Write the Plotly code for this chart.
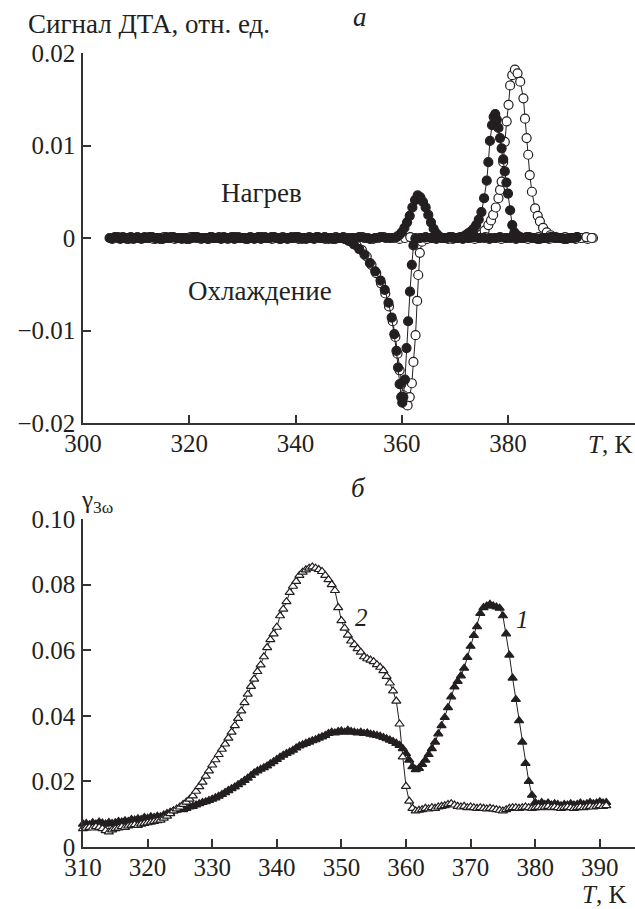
import plotly.graph_objects as go

# ---------------- Panel a: DTA signal (rel. units) ----------------
# filled circles, heating run
fh_T = [305, 306, 307, 308, 309, 310, 311, 312, 313, 314, 315, 316, 317, 318, 319, 320, 321, 322,
        323, 324, 325, 326, 327, 328, 329, 330, 331, 332, 333, 334, 335, 336, 337, 338, 339, 340,
        341, 342, 343, 344, 345, 346, 347, 348, 349, 350, 351, 352, 353, 354, 355, 356, 357, 358,
        359, 359.5, 360, 360.5, 361, 361.5, 362, 362.5, 363, 363.5, 364, 364.5, 365, 365.5, 366, 366.5, 367,
        368, 369, 370, 371,
        372, 372.5, 373, 373.5, 374, 374.5, 375, 375.5, 376, 376.3, 376.6, 377, 377.3, 377.6, 377.9,
        378.2, 378.5, 378.8, 379.1, 379.4, 379.7, 380, 380.4, 380.8, 381.2, 381.7, 382.3,
        383, 384, 385, 386, 387, 388, 389, 390, 391, 392, 393]
fh_V = [0.0000, 0.0001, -0.0001, 0.0000, 0.0001, 0.0000, -0.0001, 0.0000, 0.0001, 0.0000,
        -0.0001, 0.0000, 0.0001, 0.0000, 0.0000, -0.0001, 0.0001, 0.0000, 0.0000, 0.0001,
        0.0000, -0.0001, 0.0000, 0.0001, 0.0000, 0.0000, -0.0001, 0.0000, 0.0001, 0.0000,
        0.0000, 0.0001, -0.0001, 0.0000, 0.0000, 0.0001, 0.0000, -0.0001, 0.0000, 0.0001,
        0.0000, 0.0000, -0.0001, 0.0000, 0.0001, 0.0000, 0.0000, 0.0001, 0.0000, -0.0001,
        0.0000, 0.0001, 0.0000, 0.0000,
        0.0001, 0.0003, 0.0006, 0.0011, 0.0017, 0.0024, 0.0033, 0.0041, 0.0046, 0.0044, 0.0039,
        0.0033, 0.0025, 0.0017, 0.0010, 0.0005, 0.0002,
        0.0000, 0.0001, 0.0000, 0.0001,
        0.0003, 0.0005, 0.0007, 0.0010, 0.0014, 0.0020, 0.0028, 0.0043, 0.0062, 0.0082, 0.0105,
        0.0122, 0.0131, 0.0134, 0.0128, 0.0119, 0.0108, 0.0097, 0.0085, 0.0072, 0.0060, 0.0048,
        0.0030, 0.0014, 0.0006, 0.0003, 0.0001,
        0.0000, 0.0001, 0.0000, -0.0001, 0.0000, 0.0001, 0.0000, 0.0000, -0.0001, 0.0000, 0.0001]

# filled circles, cooling run
fc_T = [305.5, 306.5, 307.5, 308.5, 309.5, 310.5, 311.5, 312.5, 313.5, 314.5, 315.5, 316.5,
        317.5, 318.5, 319.5, 320.5, 321.5, 322.5, 323.5, 324.5, 325.5, 326.5, 327.5, 328.5,
        329.5, 330.5, 331.5, 332.5, 333.5, 334.5, 335.5, 336.5, 337.5, 338.5, 339.5, 340.5,
        341.5, 342.5, 343.5, 344.5, 345.5, 346.5, 347.5, 348.5,
        349.3, 350, 351, 352, 353, 354, 355, 356, 356.8, 357.5, 358.1, 358.6, 359.0, 359.3,
        359.6, 359.9, 360.1, 360.3, 360.6, 360.9, 361.2, 361.55, 361.9, 362.2, 362.6,
        363.5, 364.5, 365.5, 366.5, 367.5, 368.5, 369.5, 370.5, 371.5, 372.5, 373.5, 374.5,
        375.5, 376.5, 377.5, 378.5, 379.5, 380.5, 381.5, 382.5, 383.5, 384.5, 385.5, 386.5,
        387.5, 388.5, 389.5, 390.5, 391.5, 392.5]
fc_V = [-0.0001, 0.0000, 0.0001, 0.0000, -0.0001, 0.0000, 0.0000, 0.0001, 0.0000, -0.0001,
        0.0000, 0.0001, 0.0000, 0.0000, -0.0001, 0.0000, 0.0001, 0.0000, -0.0001, 0.0000,
        0.0000, 0.0001, 0.0000, -0.0001, 0.0000, 0.0000, 0.0001, 0.0000, -0.0001, 0.0000,
        0.0001, 0.0000, 0.0000, -0.0001, 0.0000, 0.0001, 0.0000, 0.0000, -0.0001, 0.0000,
        0.0001, 0.0000, -0.0001, 0.0000,
        -0.0001, -0.0003, -0.0007, -0.0012, -0.0018, -0.0027, -0.0036, -0.0046, -0.0056, -0.0070,
        -0.0086, -0.0104, -0.0122, -0.0140, -0.0158, -0.0172, -0.0178, -0.0172, -0.0153, -0.0119,
        -0.0090, -0.0058, -0.0029, -0.0008, -0.0001,
        0.0000, 0.0001, 0.0000, -0.0001, 0.0000, 0.0000, 0.0001, 0.0000, -0.0001, 0.0000,
        0.0001, 0.0000, 0.0000, -0.0001, 0.0000, 0.0001, 0.0000, 0.0000, -0.0001, 0.0000,
        0.0001, 0.0000, -0.0001, 0.0000, 0.0000, 0.0001, 0.0000, -0.0001, 0.0000, 0.0000]

# open circles, heating run
oh_T = [306.6, 307.6, 308.6, 309.6, 310.6, 311.6, 312.6, 313.6, 314.6, 315.6, 316.6, 317.6,
        318.6, 319.6, 320.6, 321.6, 322.6, 323.6, 324.6, 325.6, 326.6, 327.6, 328.6, 329.6,
        330.6, 331.6, 332.6, 333.6, 334.6, 335.6, 336.6, 337.6, 338.6, 339.6, 340.6, 341.6,
        342.6, 343.6, 344.6, 345.6, 346.6, 347.6, 348.6, 349.6, 350.6, 351.6, 352.6, 353.6,
        354.6, 355.6, 356.6, 357.6, 358.6, 359.6, 360.6, 361.6, 362.6, 363.6, 364.6, 365.6,
        366.6, 367.6, 368.6, 369.6, 370.6, 371.6, 372.6, 373.6, 374.6,
        375.0, 375.6, 376.3, 376.8, 377.2, 377.7, 378.2, 378.5, 378.8, 379.1, 379.4, 379.75,
        380.1, 380.4, 380.8, 381.3, 381.8, 382.3, 382.9, 383.2, 383.5, 383.8, 384.1, 384.5,
        385.1, 385.6, 386.0, 386.6, 387.3, 388.0,
        389.0, 390.0, 391.0, 392.0, 393.0, 394.0, 395.0, 396.0]
oh_V = [0.0001, 0.0000, -0.0001, 0.0000, 0.0000, 0.0001, 0.0000, -0.0001, 0.0000, 0.0001,
        0.0000, 0.0000, -0.0001, 0.0000, 0.0001, 0.0000, 0.0000, -0.0001, 0.0000, 0.0001,
        0.0000, 0.0000, 0.0001, 0.0000, -0.0001, 0.0000, 0.0000, 0.0001, 0.0000, -0.0001,
        0.0000, 0.0001, 0.0000, 0.0000, -0.0001, 0.0000, 0.0001, 0.0000, 0.0000, -0.0001,
        0.0000, 0.0001, 0.0000, -0.0001, 0.0000, 0.0000, 0.0001, 0.0000, -0.0001, 0.0000,
        0.0001, 0.0000, 0.0000, -0.0001, 0.0000, 0.0001, 0.0000, 0.0000, -0.0001, 0.0000,
        0.0001, 0.0000, 0.0000, -0.0001, 0.0000, 0.0001, 0.0000, 0.0001, 0.0002,
        0.0004, 0.0008, 0.0014, 0.0019, 0.0025, 0.0033, 0.0043, 0.0052, 0.0061, 0.0082, 0.0104,
        0.0126, 0.0144, 0.0165, 0.0176, 0.0182, 0.0178, 0.0169, 0.0151, 0.0129, 0.0108, 0.0090,
        0.0068, 0.0050, 0.0032, 0.0024, 0.0018, 0.0011, 0.0006, 0.0003,
        0.0001, 0.0000, -0.0001, 0.0000, 0.0001, 0.0000, -0.0001, 0.0000]

# open circles, cooling run
oc_T = [307.25, 308.25, 309.25, 310.25, 311.25, 312.25, 313.25, 314.25, 315.25, 316.25,
        317.25, 318.25, 319.25, 320.25, 321.25, 322.25, 323.25, 324.25, 325.25, 326.25,
        327.25, 328.25, 329.25, 330.25, 331.25, 332.25, 333.25, 334.25, 335.25, 336.25,
        337.25, 338.25, 339.25, 340.25, 341.25, 342.25, 343.25, 344.25, 345.25, 346.25,
        347.25, 348.25, 349.25,
        350.0, 350.8, 351.5, 352.5, 353.4, 354.3, 355.2, 356.1, 356.9, 357.6, 358.3, 358.8,
        359.2, 359.6, 359.9, 360.3, 360.7, 361.1, 361.5, 361.9, 362.2, 362.6, 362.9, 363.1,
        363.4, 363.8,
        364.75, 365.75, 366.75, 367.75, 368.75, 369.75, 370.75, 371.75, 372.75, 373.75,
        374.75, 375.75, 376.75, 377.75, 378.75, 379.75, 380.75, 381.75, 382.75, 383.75,
        384.75, 385.75, 386.75, 387.75, 388.75, 389.75, 390.75, 391.75, 392.75, 393.75,
        394.75, 395.75]
oc_V = [0.0000, -0.0001, 0.0000, 0.0001, 0.0000, 0.0000, -0.0001, 0.0000, 0.0001, 0.0000,
        -0.0001, 0.0000, 0.0000, 0.0001, 0.0000, -0.0001, 0.0000, 0.0001, 0.0000, 0.0000,
        -0.0001, 0.0000, 0.0001, 0.0000, 0.0000, -0.0001, 0.0000, 0.0001, 0.0000, 0.0000,
        -0.0001, 0.0000, 0.0001, 0.0000, -0.0001, 0.0000, 0.0000, 0.0001, 0.0000, -0.0001,
        0.0000, 0.0000, -0.0001,
        -0.0002, -0.0004, -0.0008, -0.0013, -0.0020, -0.0029, -0.0038, -0.0049, -0.0060, -0.0074,
        -0.0090, -0.0107, -0.0125, -0.0143, -0.0158, -0.0170, -0.0179, -0.0181, -0.0172, -0.0157,
        -0.0134, -0.0105, -0.0068, -0.0040, -0.0016, -0.0004,
        -0.0001, 0.0000, 0.0001, 0.0000, -0.0001, 0.0000, 0.0000, 0.0001, 0.0000, -0.0001,
        0.0000, 0.0001, 0.0000, 0.0000, -0.0001, 0.0000, 0.0001, 0.0000, 0.0000, -0.0001,
        0.0000, 0.0001, 0.0000, -0.0001, 0.0000, 0.0000, 0.0001, 0.0000, -0.0001, 0.0000,
        0.0001, 0.0000]

# ---------------- Panel б: gamma_3omega ----------------
temp_b = [310.0, 310.5, 311.0, 311.5, 312.0, 312.5, 313.0, 313.5, 314.0, 314.5,
          315.0, 315.5, 316.0, 316.5, 317.0, 317.5, 318.0, 318.5, 319.0, 319.5,
          320.0, 320.5, 321.0, 321.5, 322.0, 322.5, 323.0, 323.5, 324.0, 324.5,
          325.0, 325.5, 326.0, 326.5, 327.0, 327.5, 328.0, 328.5, 329.0, 329.5,
          330.0, 330.5, 331.0, 331.5, 332.0, 332.5, 333.0, 333.5, 334.0, 334.5,
          335.0, 335.5, 336.0, 336.5, 337.0, 337.5, 338.0, 338.5, 339.0, 339.5,
          340.0, 340.5, 341.0, 341.5, 342.0, 342.5, 343.0, 343.5, 344.0, 344.5,
          345.0, 345.5, 346.0, 346.5, 347.0, 347.5, 348.0, 348.5, 349.0, 349.5,
          350.0, 350.5, 351.0, 351.5, 352.0, 352.5, 353.0, 353.5, 354.0, 354.5,
          355.0, 355.5, 356.0, 356.5, 357.0, 357.5, 358.0, 358.5, 359.0, 359.5,
          360.0, 360.5, 361.0, 361.5, 362.0, 362.5, 363.0, 363.5, 364.0, 364.5,
          365.0, 365.5, 366.0, 366.5, 367.0, 367.5, 368.0, 368.5, 369.0, 369.5,
          370.0, 370.5, 371.0, 371.5, 372.0, 372.5, 373.0, 373.5, 374.0, 374.5,
          375.0, 375.5, 376.0, 376.5, 377.0, 377.5, 378.0, 378.5, 379.0, 379.5,
          380.0, 380.5, 381.0, 381.5, 382.0, 382.5, 383.0, 383.5, 384.0, 384.5,
          385.0, 385.5, 386.0, 386.5, 387.0, 387.5, 388.0, 388.5, 389.0, 389.5,
          390.0, 390.5, 391.0]
gamma_1 = [0.0070, 0.0072, 0.0068, 0.0074, 0.0070, 0.0076, 0.0073, 0.0070, 0.0075, 0.0072,
           0.0074, 0.0078, 0.0076, 0.0080, 0.0078, 0.0084, 0.0082, 0.0086, 0.0084, 0.0090,
           0.0088, 0.0092, 0.0090, 0.0094, 0.0092, 0.0098, 0.0102, 0.0106, 0.0110, 0.0112,
           0.0115, 0.0114, 0.0118, 0.0122, 0.0124, 0.0128, 0.0132, 0.0136, 0.0138, 0.0142,
           0.0146, 0.0150, 0.0155, 0.0160, 0.0166, 0.0172, 0.0178, 0.0183, 0.0190, 0.0196,
           0.0203, 0.0210, 0.0218, 0.0226, 0.0232, 0.0237, 0.0242, 0.0247, 0.0254, 0.0260,
           0.0267, 0.0274, 0.0280, 0.0285, 0.0290, 0.0295, 0.0302, 0.0308, 0.0312, 0.0316,
           0.0320, 0.0324, 0.0327, 0.0332, 0.0336, 0.0340, 0.0346, 0.0350, 0.0348, 0.0352,
           0.0354, 0.0350, 0.0356, 0.0352, 0.0350, 0.0348, 0.0350, 0.0346, 0.0348, 0.0344,
           0.0342, 0.0340, 0.0338, 0.0334, 0.0330, 0.0326, 0.0322, 0.0316, 0.0310, 0.0300,
           0.0285, 0.0265, 0.0245, 0.0236, 0.0240, 0.0252, 0.0265, 0.0282, 0.0300, 0.0320,
           0.0345, 0.0370, 0.0395, 0.0425, 0.0458, 0.0488, 0.0505, 0.0522, 0.0545, 0.0578,
           0.0612, 0.0645, 0.0672, 0.0712, 0.0730, 0.0735, 0.0740, 0.0735, 0.0732, 0.0728,
           0.0705, 0.0650, 0.0585, 0.0515, 0.0450, 0.0385, 0.0320, 0.0255, 0.0200, 0.0158,
           0.0136, 0.0130, 0.0136, 0.0130, 0.0134, 0.0128, 0.0132, 0.0130, 0.0126, 0.0130,
           0.0128, 0.0132, 0.0128, 0.0130, 0.0134, 0.0130, 0.0132, 0.0136, 0.0132, 0.0134,
           0.0138, 0.0134, 0.0136]
gamma_2 = [0.0056, 0.0058, 0.0060, 0.0058, 0.0062, 0.0060, 0.0056, 0.0050, 0.0046, 0.0052,
           0.0056, 0.0058, 0.0062, 0.0060, 0.0064, 0.0066, 0.0068, 0.0066, 0.0070, 0.0072,
           0.0074, 0.0076, 0.0078, 0.0080, 0.0082, 0.0088, 0.0094, 0.0102, 0.0110, 0.0116,
           0.0122, 0.0130, 0.0137, 0.0146, 0.0156, 0.0170, 0.0184, 0.0198, 0.0216, 0.0232,
           0.0250, 0.0266, 0.0282, 0.0298, 0.0314, 0.0332, 0.0350, 0.0370, 0.0392, 0.0415,
           0.0440, 0.0466, 0.0490, 0.0512, 0.0535, 0.0555, 0.0580, 0.0608, 0.0632, 0.0650,
           0.0670, 0.0705, 0.0725, 0.0748, 0.0776, 0.0795, 0.0810, 0.0828, 0.0838, 0.0845,
           0.0850, 0.0854, 0.0850, 0.0846, 0.0840, 0.0828, 0.0815, 0.0800, 0.0782, 0.0730,
           0.0690, 0.0667, 0.0646, 0.0628, 0.0617, 0.0605, 0.0594, 0.0580, 0.0574, 0.0570,
           0.0565, 0.0556, 0.0548, 0.0538, 0.0520, 0.0500, 0.0476, 0.0445, 0.0375, 0.0275,
           0.0185, 0.0140, 0.0118, 0.0110, 0.0112, 0.0114, 0.0118, 0.0116, 0.0120, 0.0118,
           0.0122, 0.0124, 0.0126, 0.0130, 0.0132, 0.0128, 0.0124, 0.0122, 0.0124, 0.0120,
           0.0122, 0.0120, 0.0118, 0.0120, 0.0118, 0.0116, 0.0118, 0.0116, 0.0114, 0.0112,
           0.0110, 0.0114, 0.0118, 0.0120, 0.0120, 0.0118, 0.0120, 0.0122, 0.0120, 0.0118,
           0.0120, 0.0122, 0.0120, 0.0122, 0.0124, 0.0120, 0.0122, 0.0120, 0.0118, 0.0120,
           0.0122, 0.0120, 0.0118, 0.0120, 0.0122, 0.0120, 0.0122, 0.0124, 0.0122, 0.0124,
           0.0126, 0.0124, 0.0126]

xticks_a = [300, 320, 340, 360, 380]
yticks_a = [-0.02, -0.01, 0, 0.01, 0.02]
yticklabels_a = ["\u22120.02", "\u22120.01", "0", "0.01", "0.02"]
xticks_b = [310, 320, 330, 340, 350, 360, 370, 380, 390]
yticks_b = [0, 0.02, 0.04, 0.06, 0.08, 0.10]
yticklabels_b = ["0", "0.02", "0.04", "0.06", "0.08", "0.10"]

for a, b in [(fh_T, fh_V), (fc_T, fc_V), (oh_T, oh_V), (oc_T, oc_V),
             (temp_b, gamma_1), (temp_b, gamma_2)]:
    assert len(a) == len(b), (len(a), len(b))

W, H = 635, 909
INK = "#231f20"
SERIF = "Liberation Serif, Times New Roman, serif"
FS = 25


def px(x):
    return x / W


def py(y):
    return 1 - y / H


fig = go.Figure()


def add(xs, ys, filled, symbol, size, xa, ya):
    fig.add_trace(go.Scatter(
        x=xs, y=ys, mode="lines+markers", xaxis=xa, yaxis=ya,
        line=dict(color=INK, width=1),
        marker=dict(symbol=symbol, size=size,
                    color=INK if filled else "white",
                    line=dict(color=INK, width=1.2)),
        cliponaxis=False, showlegend=False, hoverinfo="skip"))


add(oh_T, oh_V, False, "circle", 9, "x", "y")
add(oc_T, oc_V, False, "circle", 9, "x", "y")
add(fh_T, fh_V, True, "circle", 9, "x", "y")
add(fc_T, fc_V, True, "circle", 9, "x", "y")
add(temp_b, gamma_1, True, "triangle-up", 8, "x2", "y2")
add(temp_b, gamma_2, False, "triangle-up", 8, "x2", "y2")

axis_common = dict(showline=True, linecolor="#333333", linewidth=1.5, ticks="inside",
                   ticklen=8, tickwidth=1.5, tickcolor="#333333", showgrid=False,
                   zeroline=False, automargin=False,
                   tickfont=dict(family=SERIF, size=FS, color=INK))

fig.update_layout(
    width=W, height=H, template="none",
    font=dict(family=SERIF, size=FS, color=INK),
    paper_bgcolor="white", plot_bgcolor="rgba(0,0,0,0)",
    margin=dict(l=0, r=0, t=0, b=0),
    xaxis=dict(domain=[px(83), 1], range=[300, 300 + (W - 83) / 5.3125],
               tickvals=xticks_a, anchor="y", ticklabelstandoff=-3, **axis_common),
    yaxis=dict(domain=[py(423), py(53)], range=[-0.02, 0.02], tickvals=yticks_a,
               ticktext=yticklabels_a, anchor="x", ticklabelstandoff=1, **axis_common),
    xaxis2=dict(domain=[px(83), 1], range=[310, 310 + (W - 83) / 6.46],
                tickvals=xticks_b, anchor="y2", ticklabelstandoff=-3, **axis_common),
    yaxis2=dict(domain=[py(847), py(519)], range=[0, 0.10], tickvals=yticks_b,
                ticktext=yticklabels_b, anchor="x2", ticklabelstandoff=1, **axis_common),
)


def note(text, x, y, size=FS, xanchor="center", yanchor="middle"):
    fig.add_annotation(text=text, x=px(x), y=py(y), xref="paper", yref="paper",
                       xanchor=xanchor, yanchor=yanchor, showarrow=False,
                       font=dict(family=SERIF, size=size, color=INK))


note("Сигнал ДТА, отн. ед.", 26, 24, size=27, xanchor="left")
note("<i>а</i>", 360, 17, size=27)
note("Нагрев", 261, 193, size=27)
note("Охлаждение", 260, 291, size=27)
note("<i>T</i>, K", 634, 444, xanchor="right")
note("<i>б</i>", 359, 488, size=27)
note("γ<sub>3ω</sub>", 79, 501, size=25, xanchor="left")
note("<i>2</i>", 361, 617)
note("<i>1</i>", 522, 619)
note("<i>T</i>, K", 628, 894, xanchor="right")

fig.write_html("out.html",
               config={"displayModeBar": False},
               post_script="document.body.style.margin='0';"
                           "document.body.style.overflow='hidden';")
